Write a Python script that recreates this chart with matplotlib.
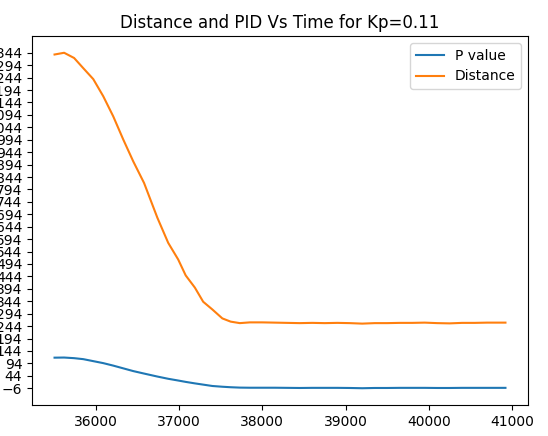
import matplotlib
matplotlib.use("Agg")
import matplotlib.pyplot as plt
import numpy as np

kp = 0.11

# time stamps (ms)
time = [35505, 35620, 35740, 35850, 35970, 36090, 36210, 36330, 36450, 36580,
        36740, 36870, 36990, 37080, 37190, 37290, 37400, 37520, 37620, 37730,
        37850, 38000, 38150, 38300, 38450, 38600, 38750, 38900, 39050, 39200,
        39350, 39500, 39650, 39800, 39950, 40100, 40250, 40400, 40550, 40700,
        40800, 40920]

distance = [1337, 1344, 1323, 1282, 1238, 1169, 1088, 995, 907, 820,
            680, 579, 512, 448, 399, 342, 311, 275, 262, 256,
            259, 259, 258, 257, 256, 257, 256, 257, 256, 254,
            256, 256, 257, 257, 258, 256, 255, 257, 257, 258,
            258, 258]

p_value = [117, 117.5, 115, 111, 103, 95, 85, 74, 63, 53,
           41, 32, 25, 19.5, 13.5, 8.5, 3, 0, -2, -3.5,
           -4, -4, -4, -4.5, -5, -4.5, -4.5, -4.5, -5, -6,
           -5, -5, -4.5, -4.5, -4.5, -5, -5, -4.5, -4.5, -4.5,
           -4.5, -4.5]

fig = plt.figure(figsize=(5.48, 4.36), dpi=100)
ax = fig.add_axes([32/548, 31/436, 496/548, 369/436])
ax.plot(time, p_value, label="P value")
ax.plot(time, distance, label="Distance")

lo = int(min(p_value + distance))
hi = int(max(p_value + distance))
ax.set_yticks(np.arange(lo, hi + 1, 50))
ax.set_title(f"Distance and PID Vs Time for Kp={kp}")
ax.legend(loc="upper right")

fig.savefig("out.png", dpi=100)
